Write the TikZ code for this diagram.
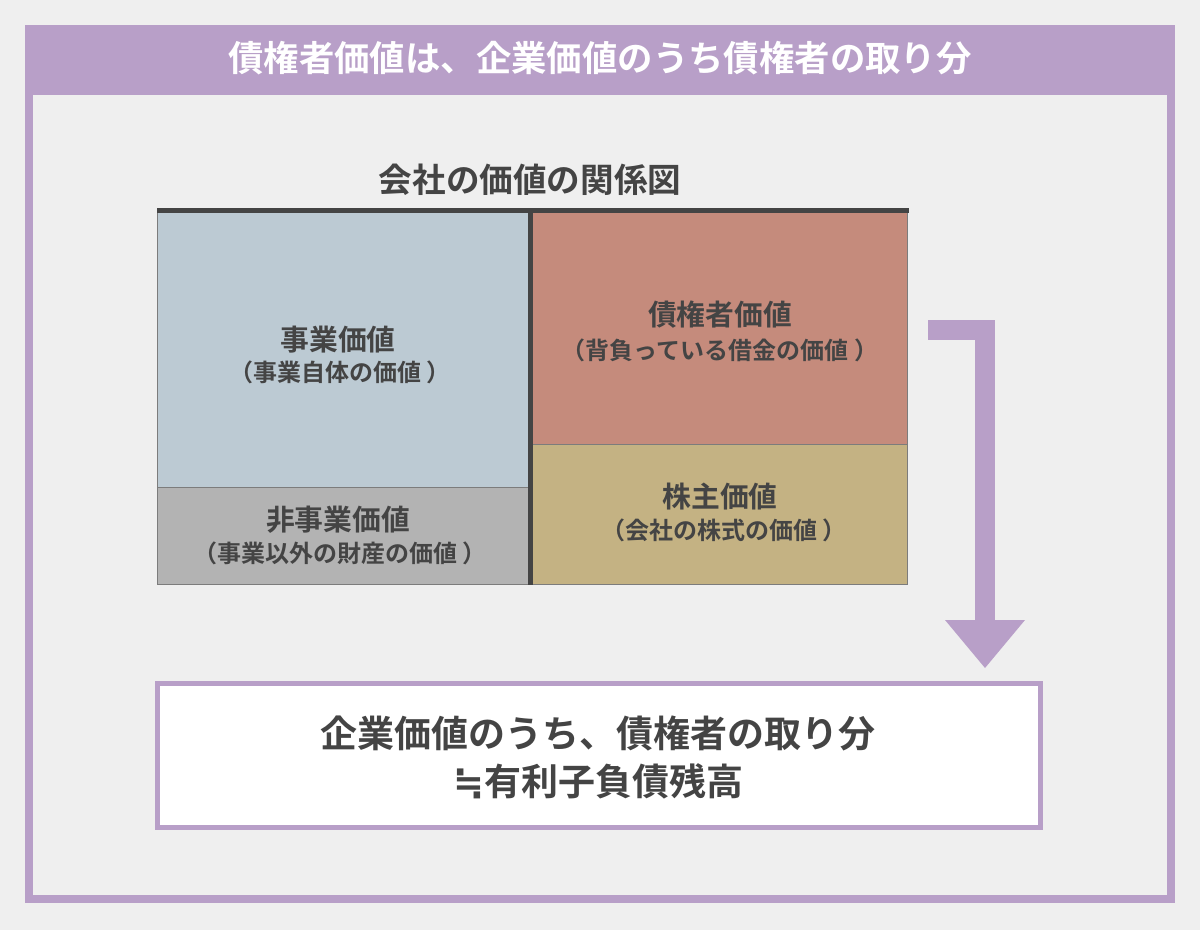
\documentclass[tikz,border=0pt]{standalone}
\usepackage{fontspec}
\newfontfamily\cjk{Noto Sans CJK JP Bold}
\newfontfamily\symfont{DejaVu Sans}
\usepackage{xcolor}
\definecolor{scheme}{HTML}{B89FC8}
\definecolor{backg}{HTML}{EFEFEF}
\definecolor{ink}{HTML}{444444}
\definecolor{bizfill}{HTML}{BCCAD3}
\definecolor{nonfill}{HTML}{B3B3B3}
\definecolor{debtfill}{HTML}{C58B7C}
\definecolor{eqfill}{HTML}{C4B283}
\tikzset{
  block/.style={draw=ink!70,line width=0.5pt},
  headtext/.style={font=\cjk\fontsize{14.4}{16}\selectfont,text=ink},
  subtext/.style={font=\cjk\fontsize{12}{14}\selectfont,text=ink},
}
\begin{document}
\begin{tikzpicture}[x=0.5pt,y=-0.5pt]
				\fill[backg] (0,0) rectangle (1200,930);
				\useasboundingbox (0,0) rectangle (1200,930);
				\draw[scheme,line width=4pt] (29,29) rectangle (1171,899);
				\fill[scheme] (25,25) rectangle (1175,95);
				\node[font=\cjk\fontsize{17.7}{20}\selectfont,text=white] (title) at (600,58) {債権者価値は、企業価値のうち債権者の取り分};
				\node[headtext,font=\cjk\fontsize{16.8}{18}\selectfont] (caption) at (530,180) {会社の価値の関係図};
				
				\coordinate (tl) at (157,211);%top left
				\coordinate (tr) at (909,211);%top right
				\filldraw[block,fill=bizfill] (157,211) rectangle (529,488);
				\filldraw[block,fill=nonfill] (157,488) rectangle (529,585);
				\filldraw[block,fill=debtfill] (531,211) rectangle (907,445);
				\filldraw[block,fill=eqfill] (531,445) rectangle (907,585);
				\draw[ink,line width=2.5pt] (tl) -- (tr);
				\draw[ink,line width=2.5pt] (530,211) -- (530,585);
				
				\node[headtext] (biz) at (338,340) {事業価値};
				\node[subtext] (bizsub) at (340,372) {（事業自体の価値 ）};
				\node[headtext] (non) at (338,520) {非事業価値};
				\node[subtext] (nonsub) at (340,553) {（事業以外の財産の価値 ）};
				\node[headtext] (debt) at (720,315) {債権者価値};
				\node[subtext] (debtsub) at (720,350) {（背負っている借金の価値 ）};
				\node[headtext] (eq) at (720,497) {株主価値};
				\node[subtext] (eqsub) at (724,530) {（会社の株式の価値 ）};
				
				\coordinate (a1) at (928,330);
				\coordinate (a2) at (985,330);
				\coordinate (a3) at (985,622);
				\draw[scheme,line width=10pt] (a1) -- (a2) -- (a3);
				\fill[scheme] (945,620) -- (1025,620) -- (985,668) -- cycle;
				
				\filldraw[draw=scheme,fill=white,line width=2.5pt] (157,683) rectangle (1040,827);
				\node[font=\cjk\fontsize{18.5}{24}\selectfont,text=ink,align=center] (result) at (598,757) {企業価値のうち、債権者の取り分\\{\symfont\bfseries ≒}有利子負債残高};
			\end{tikzpicture}
\end{document}
